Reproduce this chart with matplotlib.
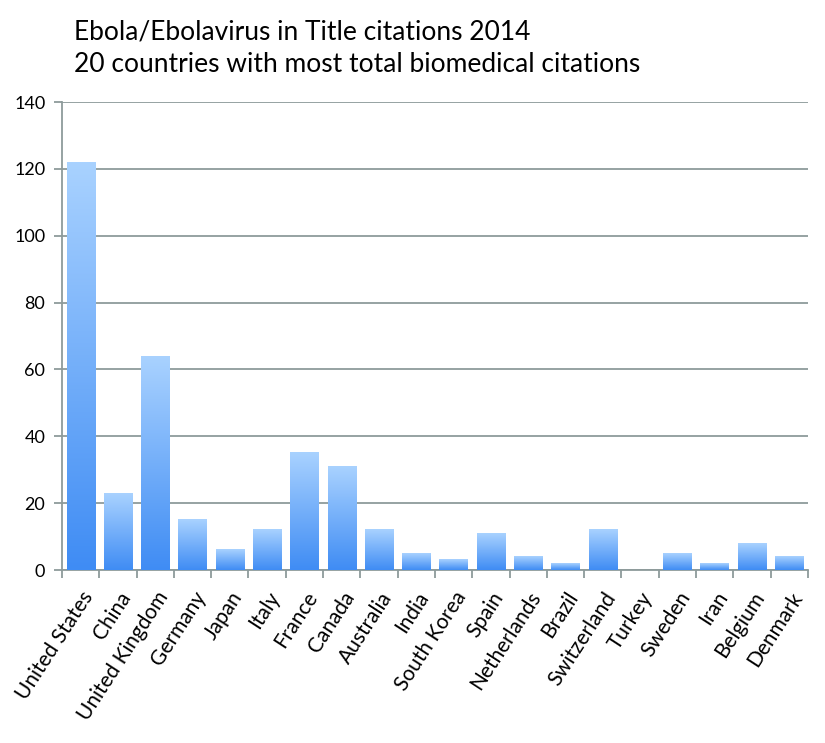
import numpy as np
import matplotlib
matplotlib.use("Agg")
import matplotlib.pyplot as plt
from matplotlib.colors import LinearSegmentedColormap

countries = ["United States", "China", "United Kingdom", "Germany", "Japan", "Italy",
             "France", "Canada", "Australia", "India", "South Korea", "Spain",
             "Netherlands", "Brazil", "Switzerland", "Turkey", "Sweden", "Iran",
             "Belgium", "Denmark"]
citations = [122, 23, 64, 15, 6, 12, 35, 31, 12, 5, 3, 11, 4, 2, 12, 0, 5, 2, 8, 4]
yticks = [0, 20, 40, 60, 80, 100, 120, 140]

plt.rcParams['font.family'] = ['Lato', 'DejaVu Sans']
grid_color = '#8e9b9b'

fig = plt.figure(figsize=(8.25, 7.43), dpi=100)
ax = fig.add_axes([0.0752, 0.2328, 0.904, 0.6299])

x = np.arange(len(countries))
bars = ax.bar(x, citations, width=0.76, color='none', zorder=3)

# vertical gradient in each bar, dark at the base
cmap = LinearSegmentedColormap.from_list('blu', ['#3f8cf4', '#a9d2ff'])
grad = np.linspace(0, 1, 256).reshape(-1, 1)
for b in bars:
    h = b.get_height()
    if h <= 0:
        continue
    x0 = b.get_x()
    ax.imshow(grad, extent=[x0, x0 + b.get_width(), 0, h], origin='lower',
              cmap=cmap, aspect='auto', zorder=3)

ax.set_xlim(-0.5, len(countries) - 0.5)
ax.set_ylim(0, 140)
ax.set_yticks(yticks)
ax.yaxis.grid(True, color=grid_color, linewidth=1.3, zorder=0)
ax.set_axisbelow(True)

ax.set_xticks(x)
ax.set_xticklabels(countries, rotation=57, ha='right', rotation_mode='anchor', fontsize=15)
ax.tick_params(axis='x', length=0, pad=13)
ax.set_xticks(np.arange(len(countries) + 1) - 0.5, minor=True)
ax.tick_params(axis='x', which='minor', length=6, color=grid_color, width=1.3)
ax.tick_params(axis='y', length=6, color=grid_color, width=1.3, labelsize=13, pad=6)

for s in ['top', 'right']:
    ax.spines[s].set_visible(False)
for s in ['left', 'bottom']:
    ax.spines[s].set_color(grid_color)
    ax.spines[s].set_linewidth(1.3)

fig.text(0.09, 0.974, "Ebola/Ebolavirus in Title citations 2014\n20 countries with most total biomedical citations",
         fontsize=19, va='top', ha='left', linespacing=1.4)

fig.savefig("out.png", dpi=100)
